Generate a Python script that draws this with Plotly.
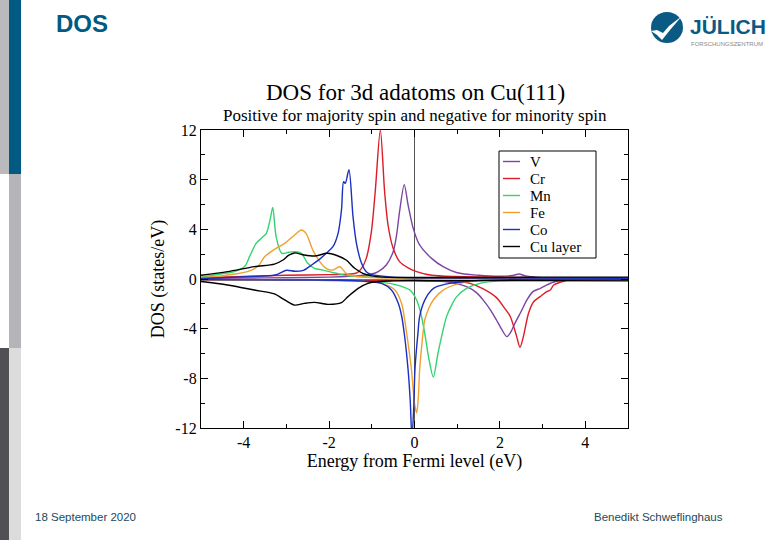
import plotly.graph_objects as go

# ---------------- data ----------------
V_maj_E = [-5.0, -4.0, -3.0, -2.0, -1.5, -1.2, -1.0, -0.85, -0.66, -0.5, -0.42, -0.35, -0.24, -0.15, -0.03, 0.12, 0.4, 0.67, 1.0, 1.5, 2.0, 2.3, 2.45, 2.6, 3.0, 4.0, 5.0]
V_maj = [0.05, 0.08, 0.1, 0.15, 0.22, 0.3, 0.4, 0.6, 1.13, 2.2, 3.54, 5.42, 7.6, 5.96, 4.08, 2.74, 1.66, 0.99, 0.5, 0.3, 0.22, 0.28, 0.4, 0.25, 0.1, 0.07, 0.06]
V_min_E = [-5.0, -3.0, -1.0, 0.0, 0.8, 1.22, 1.45, 1.61, 1.8, 1.92, 2.05, 2.16, 2.25, 2.35, 2.5, 2.63, 2.78, 2.95, 3.1, 3.3, 3.6, 4.0, 5.0]
V_min = [-0.05, -0.05, -0.08, -0.1, -0.25, -0.62, -1.1, -1.7, -2.6, -3.3, -4.1, -4.64, -4.3, -3.57, -2.6, -1.7, -1.0, -0.75, -0.48, -0.2, -0.08, -0.05, -0.05]

Cr_maj_E = [-5.0, -4.0, -3.0, -2.0, -1.5, -1.35, -1.24, -1.13, -1.01, -0.92, -0.8, -0.7, -0.62, -0.5, -0.35, -0.15, 0.05, 0.4, 1.0, 2.0, 3.0, 4.0, 5.0]
Cr_maj = [0.1, 0.2, 0.3, 0.35, 0.4, 0.5, 0.86, 1.66, 3.8, 7.03, 12.0, 7.03, 4.35, 2.47, 1.4, 0.9, 0.6, 0.3, 0.2, 0.15, 0.1, 0.08, 0.08]
Cr_min_E = [-5.0, -3.0, -1.0, 0.0, 1.0, 1.3, 1.61, 1.92, 2.1, 2.24, 2.39, 2.47, 2.55, 2.67, 2.79, 2.94, 3.1, 3.18, 3.26, 3.41, 3.6, 4.0, 5.0]
Cr_min = [-0.08, -0.1, -0.12, -0.15, -0.2, -0.35, -0.8, -1.5, -2.3, -3.0, -4.6, -5.5, -4.64, -2.76, -1.83, -1.42, -1.02, -0.89, -0.48, -0.27, -0.08, -0.06, -0.06]

Mn_maj_E = [-5.0, -4.9, -4.69, -4.45, -4.22, -3.98, -3.85, -3.71, -3.59, -3.47, -3.38, -3.32, -3.24, -3.11, -2.95, -2.8, -2.65, -2.5, -2.34, -2.15, -1.83, -1.52, -1.0, 0.0, 2.0, 5.0]
Mn_maj = [0.15, 0.2, 0.32, 0.45, 0.59, 1.0, 1.9, 2.87, 3.27, 3.68, 4.8, 5.77, 3.4, 2.07, 2.15, 2.2, 2.07, 1.26, 0.86, 0.72, 0.46, 0.24, 0.15, 0.1, 0.08, 0.06]
Mn_min_E = [-5.0, -3.0, -1.5, -0.58, -0.3, -0.1, 0.05, 0.15, 0.24, 0.34, 0.44, 0.55, 0.65, 0.75, 0.87, 0.99, 1.22, 1.53, 2.0, 3.0, 5.0]
Mn_min = [-0.05, -0.08, -0.15, -0.35, -0.6, -0.9, -1.69, -2.8, -4.37, -6.5, -7.9, -5.98, -4.4, -3.03, -2.1, -1.42, -0.75, -0.35, -0.15, -0.08, -0.05]

Fe_maj_E = [-5.0, -4.65, -4.38, -3.91, -3.67, -3.51, -3.36, -3.24, -3.04, -2.81, -2.65, -2.54, -2.38, -2.22, -2.07, -1.91, -1.75, -1.6, -1.4, -1.0, 0.0, 2.0, 5.0]
Fe_maj = [0.12, 0.2, 0.32, 0.6, 1.0, 1.8, 2.2, 2.47, 2.87, 3.54, 3.95, 3.68, 2.33, 1.4, 0.86, 0.72, 0.99, 0.46, 0.24, 0.12, 0.08, 0.06, 0.05]
Fe_min_E = [-5.0, -3.0, -1.5, -0.77, -0.46, -0.3, -0.23, -0.15, -0.07, 0.0, 0.05, 0.09, 0.12, 0.18, 0.24, 0.33, 0.44, 0.67, 1.06, 1.5, 2.5, 5.0]
Fe_min = [-0.05, -0.08, -0.15, -0.35, -0.89, -2.0, -3.3, -5.2, -7.33, -10.0, -10.8, -9.5, -7.33, -5.0, -3.3, -2.4, -1.69, -0.89, -0.35, -0.15, -0.08, -0.05]

Co_maj_E = [-5.0, -4.5, -3.87, -3.27, -3.0, -2.8, -2.6, -2.4, -2.22, -2.07, -1.91, -1.79, -1.71, -1.66, -1.62, -1.535, -1.44, -1.36, -1.24, -1.13, -1.0, -0.8, -0.5, 0.0, 2.0, 5.0]
Co_maj = [0.05, 0.1, 0.2, 0.32, 0.7, 0.62, 0.7, 1.15, 1.6, 2.07, 2.6, 3.68, 5.56, 7.84, 7.7, 8.8, 5.02, 2.87, 1.26, 0.59, 0.35, 0.25, 0.15, 0.1, 0.08, 0.06]
Co_min_E = [-5.0, -3.0, -1.5, -0.77, -0.54, -0.38, -0.3, -0.23, -0.15, -0.1, -0.06, -0.02, 0.01, 0.05, 0.08, 0.12, 0.24, 0.4, 0.52, 0.83, 1.5, 5.0]
Co_min = [-0.05, -0.08, -0.12, -0.35, -0.89, -1.96, -3.0, -4.65, -7.33, -9.8, -12.8, -10.5, -7.33, -5.5, -4.4, -3.03, -1.7, -0.89, -0.62, -0.35, -0.12, -0.05]

Cu_maj_E = [-5.0, -4.38, -3.75, -3.28, -3.08, -2.95, -2.81, -2.58, -2.34, -2.03, -1.79, -1.6, -1.4, -1.21, -1.0, -0.74, -0.3, 0.5, 2.0, 3.0, 5.0]
Cu_maj = [0.3, 0.59, 1.0, 1.2, 1.53, 1.9, 2.1, 1.93, 1.85, 2.07, 1.85, 1.53, 0.86, 0.46, 0.25, 0.15, 0.12, 0.12, 0.12, 0.15, 0.15]
Cu_min_E = [-5.0, -4.38, -3.75, -3.28, -3.04, -2.81, -2.58, -2.34, -2.03, -1.71, -1.56, -1.32, -1.09, -0.85, -0.5, 0.0, 2.0, 5.0]
Cu_min = [-0.2, -0.48, -0.89, -1.2, -1.69, -2.1, -1.96, -1.88, -2.04, -1.9, -1.42, -0.75, -0.35, -0.2, -0.15, -0.12, -0.12, -0.15]

names = ["V", "Cr", "Mn", "Fe", "Co", "Cu layer"]
colors = ["#7a45a3", "#dc1c26", "#33d46e", "#f0a030", "#1b2fc0", "#000000"]
series = [
    (V_maj_E, V_maj, V_min_E, V_min),
    (Cr_maj_E, Cr_maj, Cr_min_E, Cr_min),
    (Mn_maj_E, Mn_maj, Mn_min_E, Mn_min),
    (Fe_maj_E, Fe_maj, Fe_min_E, Fe_min),
    (Co_maj_E, Co_maj, Co_min_E, Co_min),
    (Cu_maj_E, Cu_maj, Cu_min_E, Cu_min),
]

x_tickvals = [-4, -2, 0, 2, 4]
x_ticktext = ["-4", "-2", "0", "2", "4"]
y_tickvals = [12, 8, 4, 0, -4, -8, -12]
y_ticktext = ["12", "8", "4", "0", "-4", "-8", "-12"]

# ---------------- figure ----------------
W, H = 780, 540
L, R, T, B = 201, 152, 130, 112
PW, PH = W - L - R, H - T - B


def px(x, y):
    return (x - L) / PW, (H - B - y) / PH


fig = go.Figure()
for name, col, (e1, d1, e2, d2) in zip(names, colors, series):
    fig.add_trace(go.Scatter(
        x=list(e1) + [None] + list(e2),
        y=list(d1) + [None] + list(d2),
        mode="lines", name=name, showlegend=False,
        line=dict(color=col, width=1.4, shape="spline", smoothing=0.8),
        connectgaps=False,
    ))

serif = "Liberation Serif, Times New Roman, serif"
sans = "Liberation Sans, Arial, sans-serif"
axis_common = dict(
    showline=True, linecolor="black", linewidth=1.2, mirror="allticks",
    ticks="inside", ticklen=7, tickwidth=1, tickcolor="black",
    showgrid=False, zeroline=False,
    tickfont=dict(family=serif, size=16, color="black"),
)
fig.update_xaxes(range=[-5, 5], tickvals=x_tickvals, ticktext=x_ticktext,
                 minor=dict(ticks="inside", ticklen=4, dtick=1, tick0=0, tickcolor="black", showgrid=False),
                 title=dict(text="Energy from Fermi level (eV)", font=dict(family=serif, size=18, color="black"), standoff=1),
                 **axis_common)
fig.update_yaxes(range=[-12, 12], tickvals=y_tickvals, ticktext=y_ticktext,
                 minor=dict(ticks="inside", ticklen=4, dtick=2, tick0=0, tickcolor="black", showgrid=False),
                 title=dict(text="DOS (states/eV)", font=dict(family=serif, size=18, color="black"), standoff=6),
                 **axis_common)

shapes = []
# Fermi level line
shapes.append(dict(type="line", xref="x", yref="y", x0=0, x1=0, y0=-12, y1=12,
                   line=dict(color="#555555", width=1), layer="below"))


def rect(x0, y0, x1, y1, color, line=None):
    a0, b0 = px(x0, y0)
    a1, b1 = px(x1, y1)
    shapes.append(dict(type="rect", xref="paper", yref="paper", x0=a0, y0=b1, x1=a1, y1=b0,
                       fillcolor=color, line=(line or dict(width=0)), layer="above"))


# slide side bars
rect(0, 0, 9, 174, "#b9b9be")
rect(0, 348, 9, 540, "#505055")
rect(9, 0, 21, 174, "#005a82")
rect(9, 174, 21, 348, "#b4b4b9")
rect(9, 348, 21, 540, "#dcdcdc")

# logo icon
c0 = px(651, 12)
c1 = px(683, 43)
shapes.append(dict(type="circle", xref="paper", yref="paper", x0=c0[0], y0=c1[1], x1=c1[0], y1=c0[1],
                   fillcolor="#0a5a84", line=dict(width=0)))
pts = [px(651, 31), px(657, 35), px(662, 40), px(670, 30), px(682, 16), px(669, 26), px(663, 33), px(657, 30)]
path = "M " + " L ".join(f"{p[0]},{p[1]}" for p in pts) + " Z"
shapes.append(dict(type="path", xref="paper", yref="paper", path=path, fillcolor="white", line=dict(width=0)))

annotations = []


def text(x, y, s, size, family, color, xanchor="center", bold=False):
    a, b = px(x, y)
    annotations.append(dict(xref="paper", yref="paper", x=a, y=b, text=(f"<b>{s}</b>" if bold else s),
                            showarrow=False, xanchor=xanchor, yanchor="middle",
                            font=dict(size=size, family=family, color=color)))


# manual legend (xmgrace style)
rect(499, 151, 596, 258, "white", line=dict(color="black", width=1))
for i, (name, col) in enumerate(zip(names, colors)):
    yy = 161.5 + i * 17.0
    a0, b0 = px(503, yy)
    a1, _ = px(520, yy)
    shapes.append(dict(type="line", xref="paper", yref="paper", x0=a0, x1=a1, y0=b0, y1=b0,
                       line=dict(color=col, width=1.4), layer="above"))
    text(528, yy + 0.5, name, 15, serif, "black", xanchor="left")

text(415, 92, "DOS for 3d adatoms on Cu(111)", 23, serif, "black")
text(415, 115.5, "Positive for majority spin and negative for minority spin", 17, serif, "black")
text(54, 24, "DOS", 24, sans, "#005a82", xanchor="left", bold=True)
text(688, 26, "JÜLICH", 21, "Liberation Sans Narrow, " + sans, "#0a5a84", xanchor="left", bold=True)
text(689, 44, "FORSCHUNGSZENTRUM", 6, sans, "#8a8a8a", xanchor="left")
text(33, 517, "18 September 2020", 11.5, sans, "#1a4a5c", xanchor="left")
text(725, 517, "Benedikt Schweflinghaus", 11.5, sans, "#1a4a5c", xanchor="right")

fig.update_layout(
    width=W, height=H,
    margin=dict(l=L, r=R, t=T, b=B),
    paper_bgcolor="white", plot_bgcolor="white",
    showlegend=False,
    shapes=shapes, annotations=annotations,
)

fig.write_html("out.html", config={"displayModeBar": False},
               post_script="document.body.style.margin='0px';")
